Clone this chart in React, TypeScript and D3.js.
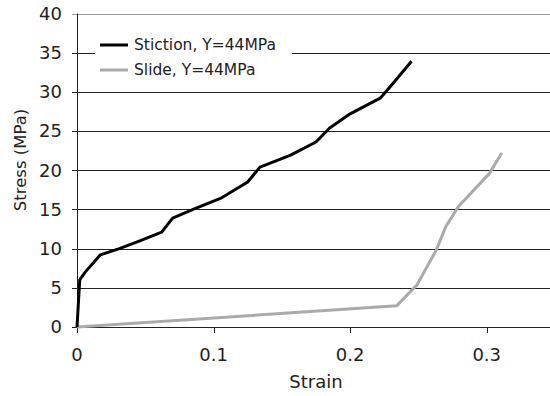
import React from "react";
import * as d3 from "d3";

const stictionStrain = [0, 0.002, 0.006, 0.017, 0.031, 0.046, 0.062, 0.070, 0.085, 0.105, 0.125, 0.134, 0.156, 0.175, 0.185, 0.2, 0.222, 0.229, 0.245];
const stictionStress = [0, 6.0, 7.0, 9.2, 10.0, 11.0, 12.1, 13.9, 15.0, 16.4, 18.5, 20.4, 21.9, 23.6, 25.4, 27.2, 29.2, 30.6, 33.9];
const slideStrain = [0, 0.234, 0.249, 0.263, 0.27, 0.279, 0.302, 0.311];
const slideStress = [0, 2.7, 5.4, 9.8, 12.8, 15.3, 19.6, 22.2];
const yTicks = [0, 5, 10, 15, 20, 25, 30, 35, 40];
const xTicks = [0, 0.1, 0.2, 0.3];
const seriesNames = ["Stiction, Y=44MPa", "Slide, Y=44MPa"];
const seriesColors = ["#000000", "#aaaaaa"];

export default function App() {
  const W = 550, H = 396;
  const x = d3.scaleLinear().domain([0, 0.35]).range([77, 555]);
  const y = d3.scaleLinear().domain([0, 40]).range([327, 13.5]);
  const line = d3.line<[number, number]>().x(d => x(d[0])).y(d => y(d[1]));
  const s1 = stictionStrain.map((v, i) => [v, stictionStress[i]] as [number, number]);
  const s2 = slideStrain.map((v, i) => [v, slideStress[i]] as [number, number]);
  const font = "'DejaVu Sans', Verdana, sans-serif";
  return (
    <svg width={W} height={H} style={{ position: "absolute", left: 0, top: 0, background: "#fff" }} fontFamily={font}>
      {yTicks.map(t => (
        <g key={t}>
          <line x1={72} x2={W} y1={Math.round(y(t)) + 0.5} y2={Math.round(y(t)) + 0.5} stroke={t === 40 ? "#999" : "#222"} strokeWidth={1} />
          <text x={62} y={y(t)} dy="0.35em" textAnchor="end" fontSize={18} fill="#222">{t}</text>
        </g>
      ))}
      <line x1={77.5} x2={77.5} y1={y(40)} y2={y(0) + 6} stroke="#222" strokeWidth={1} />
      {xTicks.map(t => (
        <g key={t}>
          <line x1={Math.round(x(t)) + 0.5} x2={Math.round(x(t)) + 0.5} y1={y(0)} y2={y(0) + 6} stroke="#222" strokeWidth={1} />
          <text x={x(t)} y={355} dy="0.35em" textAnchor="middle" fontSize={18} fill="#222">{t === 0 ? "0" : t.toString()}</text>
        </g>
      ))}
      <rect x={95} y={33} width={197} height={50} fill="#fff" />
      {seriesNames.map((n, i) => (
        <g key={n}>
          <line x1={100} x2={128} y1={45 + i * 25} y2={45 + i * 25} stroke={seriesColors[i]} strokeWidth={3} />
          <text x={134} y={45 + i * 25} dy="0.35em" fontSize={15.5} fill="#222">{n}</text>
        </g>
      ))}
      <path d={line(s2) || ""} fill="none" stroke={seriesColors[1]} strokeWidth={3} strokeLinejoin="round" />
      <path d={line(s1) || ""} fill="none" stroke={seriesColors[0]} strokeWidth={3} strokeLinejoin="round" />
      <text transform={`translate(20,160) rotate(-90)`} textAnchor="middle" dy="0.35em" fontSize={16.5} fill="#222">Stress (MPa)</text>
      <text x={316} y={382} textAnchor="middle" dy="0.35em" fontSize={18} fill="#222">Strain</text>
    </svg>
  );
}
